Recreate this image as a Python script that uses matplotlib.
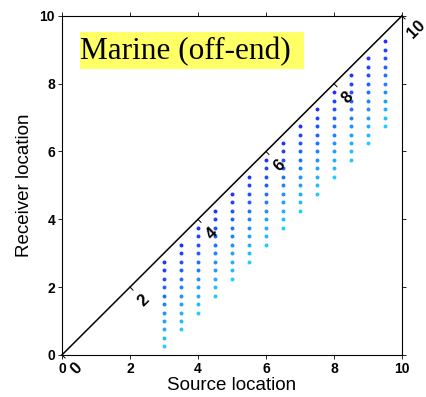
import numpy as np
import matplotlib
matplotlib.use('Agg')
import matplotlib.pyplot as plt
from matplotlib.colors import LinearSegmentedColormap
from matplotlib.patches import Rectangle

# source positions and source-receiver offsets (off-end marine geometry)
sources = [3.0, 3.5, 4.0, 4.5, 5.0, 5.5, 6.0, 6.5, 7.0, 7.5, 8.0, 8.5, 9.0, 9.5]
offsets = [0.25, 0.5, 0.75, 1.0, 1.25, 1.5, 1.75, 2.0, 2.25, 2.5, 2.75]
diag_ticks = [0, 2, 4, 6, 8, 10]
axis_ticks = [0, 2, 4, 6, 8, 10]
title = 'Marine (off-end)'

fig = plt.figure(figsize=(4.26, 3.97), dpi=100)
ax = fig.add_axes([0.1455, 0.106, 0.798, 0.854])
ax.set_xlim(0, 10)
ax.set_ylim(0, 10)

# dots, coloured by offset
cmap = LinearSegmentedColormap.from_list('bc', ['#2030ff', '#2080ff', '#22ccff'])
for i, off in enumerate(offsets):
    xs = np.array(sources)
    ys = xs - off
    ax.scatter(xs, ys, s=8, color=cmap(i / (len(offsets) - 1)), lw=0, zorder=3)

# diagonal line with its own ticks and labels
ax.plot([0, 10], [0, 10], color='black', lw=1.1, zorder=4, clip_on=False)
for v in diag_ticks:
    ax.plot([v, v + 0.09], [v, v - 0.09], color='black', lw=0.7, clip_on=False, zorder=4)
    ax.text(v + 0.41, v - 0.41, str(v), rotation=45, ha='center', va='center',
            fontsize=12, fontweight='bold', family='Liberation Sans', clip_on=False)

# title box
ax.add_patch(Rectangle((0.53, 8.43), 6.59, 1.1, facecolor='#ffff66', edgecolor='none', zorder=2))
ax.text(0.53, 8.72, title, family='Liberation Serif', fontsize=22.5, ha='left',
        va='baseline', zorder=3)

ax.set_xticks(axis_ticks)
ax.set_yticks(axis_ticks)
ax.tick_params(direction='out', length=3, width=0.6, top=True, right=True,
               labeltop=False, labelright=False, pad=2)
for lab in ax.get_xticklabels() + ax.get_yticklabels():
    lab.set_fontweight('bold')
    lab.set_fontsize(10)
    lab.set_family('Liberation Sans')
for sp in ax.spines.values():
    sp.set_linewidth(0.8)

ax.set_xlabel('Source location', family='Liberation Sans', fontsize=13.5, labelpad=1)
ax.set_ylabel('Receiver location', family='Liberation Sans', fontsize=13.5, labelpad=5)

fig.savefig('out.png', dpi=100)
